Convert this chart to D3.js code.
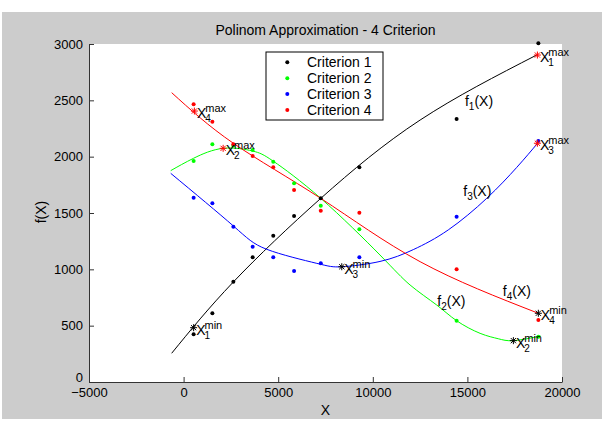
<!doctype html>
<html lang=en>
<head>
<meta charset=utf-8>
<title>Polinom Approximation - 4 Criterion</title>
<script src="https://d3js.org/d3.v7.min.js"></script>
<style>
body { margin: 0; background: #fff; }
text { font-family: Arial, "Liberation Sans", sans-serif; }
</style>
</head>
<body>
<div id="container"></div>
<script>
    // ticks
    var xTicks = [-5000, 0, 5000, 10000, 15000, 20000];
    var yTicks = [0, 500, 1000, 1500, 2000, 2500, 3000];

    var names = ["Criterion 1", "Criterion 2", "Criterion 3", "Criterion 4"];
    var colors = ["#000000", "#00ff00", "#0000ff", "#ff0000"];

    // measured points (same X for every criterion)
    var pointX = [530, 1520, 2630, 3650, 4740, 5840, 7250, 9290, 14430, 18750];
    var crit1 = [423, 610, 890, 1107, 1299, 1473, 1630, 1906, 2334, 3006];
    var crit2 = [1962, 2110, 2100, 2059, 1955, 1763, 1565, 1355, 544, 402];
    var crit3 = [1636, 1586, 1379, 1201, 1107, 985, 1053, 1107, 1467, 2139];
    var crit4 = [2465, 2311, 2110, 2006, 1906, 1704, 1520, 1503, 1000, 550];

    // approximation curves
    var fit1 = [[-630, 255], [2630, 888], [7250, 1630], [12500, 2325], [18660, 2902]];
    var fit2 = [[-680, 1876], [530, 1986], [2090, 2074], [3650, 2050], [4740, 1960], [7250, 1630], [10380, 1127], [11970, 861],
                [13380, 683], [14430, 544], [15670, 432], [16630, 384], [17430, 367], [18870, 408]];
    var fit3 = [[-680, 1852], [2630, 1385], [4390, 1178], [7040, 1053], [8360, 1023], [10380, 1070], [12140, 1175],
                [13990, 1350], [16020, 1630], [17610, 1905], [18710, 2119]];
    var fit4 = [[-630, 2568], [2630, 2119], [7250, 1630], [12500, 1068], [18750, 610]];

    // extremes
    var maxPts = [[18700, 2902], [2090, 2074], [18700, 2119], [570, 2405]];
    var minPts = [[530, 482], [17430, 367], [8360, 1023], [18750, 610]];

    // curve label anchors
    var fLabels = [[14870, 2450], [13410, 675], [14780, 1651], [16870, 763]];

    var series = [crit1, crit2, crit3, crit4];
    var fits = [fit1, fit2, fit3, fit4];

    var w = 606, h = 421;
    var svg = d3.select("#container").append("svg")
        .attr("width", w).attr("height", h);

    svg.append("rect").attr("x", 2).attr("y", 12).attr("width", 600).attr("height", 407).attr("fill", "#cccccc");

    var x = d3.scaleLinear().domain([-5000, 20000]).range([89, 562]);
    var y = d3.scaleLinear().domain([0, 3000]).range([382, 44]);

    svg.append("rect").attr("x", 89).attr("y", 44).attr("width", 562 - 89).attr("height", 382 - 44).attr("fill", "#fff");

    // axes
    var xAxis = svg.append("g").attr("transform", "translate(0,382)")
        .call(d3.axisBottom(x).tickValues(xTicks).tickSizeInner(-5).tickSizeOuter(0).tickPadding(6).tickFormat(d3.format("d")));
    var yAxis = svg.append("g").attr("transform", "translate(89,0)")
        .call(d3.axisLeft(y).tickValues(yTicks).tickSizeInner(-5).tickSizeOuter(0).tickPadding(6).tickFormat(d3.format("d")));
    [xAxis, yAxis].forEach(function(a) {
        a.select(".domain").attr("stroke", "#333");
        a.selectAll(".tick line").attr("stroke", "#333");
        a.selectAll(".tick text").attr("font-size", 13).attr("font-family", "Arial, 'Liberation Sans', sans-serif").attr("fill", "#000");
    });
    yAxis.selectAll(".tick text").filter(function(d) { return d === 0; }).attr("dy", "-0.05em");

    // title and axis labels
    svg.append("text").attr("x", 325.5).attr("y", 35).attr("text-anchor", "middle").attr("font-size", 14)
        .text("Polinom Approximation - 4 Criterion");
    svg.append("text").attr("x", 325.5).attr("y", 415).attr("text-anchor", "middle").attr("font-size", 14).text("X");
    svg.append("text").attr("transform", "translate(46,212) rotate(-90)").attr("text-anchor", "middle").attr("font-size", 14).text("f(X)");

    // fitted curves
    var line = d3.line().x(function(d) { return x(d[0]); }).y(function(d) { return y(d[1]); }).curve(d3.curveNatural);
    svg.selectAll("path.fit")
        .data(fits)
        .enter()
        .append("path")
        .attr("class", "fit")
        .attr("d", line)
        .attr("fill", "none")
        .attr("stroke", function(d, i) { return colors[i]; })
        .attr("stroke-width", 1);

    // data points
    series.forEach(function(s, i) {
        svg.selectAll("circle.s" + i)
            .data(s)
            .enter()
            .append("circle")
            .attr("class", "s" + i)
            .attr("cx", function(d, j) { return x(pointX[j]); })
            .attr("cy", function(d) { return y(d); })
            .attr("r", 2)
            .attr("fill", colors[i]);
    });

    // star markers and X labels
    function star(p, col) {
        var cx = x(p[0]), cy = y(p[1]), r = 3.5, q = 2.6;
        var g = svg.append("g").attr("stroke", col).attr("stroke-width", 1);
        g.append("line").attr("x1", cx - r).attr("x2", cx + r).attr("y1", cy).attr("y2", cy);
        g.append("line").attr("x1", cx).attr("x2", cx).attr("y1", cy - r).attr("y2", cy + r);
        g.append("line").attr("x1", cx - q).attr("x2", cx + q).attr("y1", cy - q).attr("y2", cy + q);
        g.append("line").attr("x1", cx - q).attr("x2", cx + q).attr("y1", cy + q).attr("y2", cy - q);
    }
    function xLabel(p, idx, kind) {
        var cx = x(p[0]) + 2.5, cy = y(p[1]);
        var t = svg.append("text").attr("x", cx).attr("y", cy + 7).attr("font-size", 14).text("X");
        var tw = t.node().getComputedTextLength();
        svg.append("text").attr("x", cx + tw - 1).attr("y", cy + 11).attr("font-size", 10).text(idx);
        svg.append("text").attr("x", cx + tw - 1).attr("y", cy + 1).attr("font-size", 11).text(kind);
    }
    maxPts.forEach(function(p, i) { star(p, "#ff0000"); xLabel(p, i + 1, "max"); });
    minPts.forEach(function(p, i) { star(p, "#000000"); xLabel(p, i + 1, "min"); });

    // f labels
    fLabels.forEach(function(p, i) {
        var t = svg.append("text").attr("x", x(p[0])).attr("y", y(p[1])).attr("font-size", 14);
        t.append("tspan").text("f");
        t.append("tspan").attr("font-size", 10).attr("dy", 4).text(i + 1);
        t.append("tspan").attr("dy", -4).text("(X)");
    });

    // legend
    var lg = svg.append("g");
    lg.append("rect").attr("x", 266).attr("y", 52).attr("width", 117).attr("height", 68)
        .attr("fill", "#fff").attr("stroke", "#000").attr("stroke-width", 1);
    var items = lg.selectAll("g.item")
        .data(names)
        .enter()
        .append("g")
        .attr("class", "item")
        .attr("transform", function(d, i) { return "translate(0," + (62.3 + i * 15.9) + ")"; });
    items.append("circle").attr("cx", 287.3).attr("cy", 0).attr("r", 2).attr("fill", function(d, i) { return colors[i]; });
    items.append("text").attr("x", 307).attr("y", 5).attr("font-size", 14).text(function(d) { return d; });
</script>
</body>
</html>
